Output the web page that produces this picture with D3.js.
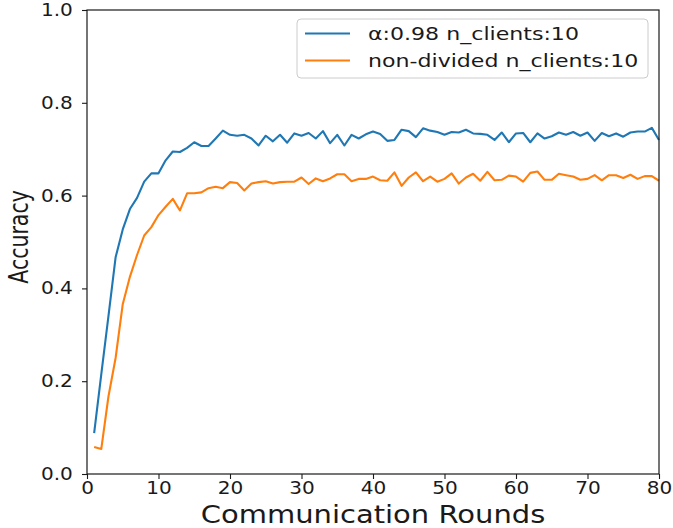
<!DOCTYPE html>
<html>
<head>
<meta charset="utf-8">
<script src="https://cdn.jsdelivr.net/npm/d3@7"></script>
<style>
  body { margin: 0; background: #fff; }
  .canva text { font-family: "DejaVu Sans", sans-serif; fill: #1a1a1a; }
</style>
</head>
<body>
<div class="canva"></div>
<script>
const rounds = d3.range(1, 81);

var alphaAcc = [
  0.088, 0.215, 0.340, 0.467, 0.527, 0.571, 0.595, 0.630, 0.648, 0.648,
  0.676, 0.695, 0.694, 0.703, 0.715, 0.707, 0.707, 0.723, 0.740, 0.731,
  0.729, 0.731, 0.723, 0.708, 0.729, 0.717, 0.731, 0.714, 0.734, 0.729,
  0.735, 0.723, 0.739, 0.713, 0.731, 0.708, 0.731, 0.723, 0.732, 0.738,
  0.733, 0.718, 0.720, 0.742, 0.739, 0.726, 0.745, 0.740, 0.737, 0.731,
  0.737, 0.736, 0.742, 0.734, 0.733, 0.731, 0.720, 0.736, 0.715, 0.734,
  0.735, 0.715, 0.734, 0.723, 0.728, 0.736, 0.731, 0.737, 0.729, 0.736,
  0.718, 0.735, 0.728, 0.734, 0.727, 0.736, 0.738, 0.738, 0.746, 0.720
];

var nonDividedAcc = [
  0.058, 0.054, 0.167, 0.250, 0.366, 0.425, 0.472, 0.514, 0.532, 0.558,
  0.576, 0.593, 0.568, 0.605, 0.605, 0.607, 0.616, 0.619, 0.616, 0.629,
  0.627, 0.611, 0.626, 0.629, 0.631, 0.626, 0.629, 0.630, 0.630, 0.639,
  0.625, 0.637, 0.631, 0.637, 0.646, 0.646, 0.631, 0.636, 0.636, 0.641,
  0.633, 0.632, 0.650, 0.621, 0.639, 0.650, 0.631, 0.641, 0.630, 0.636,
  0.648, 0.626, 0.639, 0.647, 0.632, 0.651, 0.633, 0.634, 0.643, 0.641,
  0.630, 0.649, 0.652, 0.634, 0.634, 0.647, 0.644, 0.641, 0.634, 0.636,
  0.644, 0.633, 0.644, 0.644, 0.638, 0.645, 0.636, 0.642, 0.642, 0.632
];

var seriesNames = ["α:0.98 n_clients:10", "non-divided n_clients:10"];
var seriesColors = ["#1f77b4", "#ff7f0e"];
var xTicks = [0, 10, 20, 30, 40, 50, 60, 70, 80];
var yTicks = [0.0, 0.2, 0.4, 0.6, 0.8, 1.0];

const svg = d3.select(".canva").append("svg")
              .attr("width", 673)
              .attr("height", 528);

const margin = {top: 10, right: 14, bottom: 54, left: 87};
const graphWidth = 673 - margin.left - margin.right;
const graphHeight = 528 - margin.top - margin.bottom;

const mainCanvas = svg.append("g")
                      .attr("transform", `translate(${margin.left},${margin.top})`);

var x = d3.scaleLinear().domain([0, 80]).range([0, graphWidth]);
var y = d3.scaleLinear().domain([0, 1]).range([graphHeight, 0]);

var valueLine = d3.line()
                  .x((d, i) => x(rounds[i]))
                  .y(d => y(d));

[alphaAcc, nonDividedAcc].forEach(function(series, k) {
  mainCanvas.append("path")
            .datum(series)
            .attr("fill", "none")
            .attr("stroke", seriesColors[k])
            .attr("stroke-width", 2.1)
            .attr("stroke-linejoin", "round")
            .attr("d", valueLine);
});

// axes
var xAxis = d3.axisBottom(x).tickValues(xTicks).tickFormat(d3.format("d"))
              .tickSize(5).tickPadding(3);
var gx = mainCanvas.append("g")
                   .attr("transform", "translate(0," + graphHeight + ")")
                   .call(xAxis);

var yAxis = d3.axisLeft(y).tickValues(yTicks).tickFormat(d3.format(".1f"))
              .tickSize(5).tickPadding(7);
var gy = mainCanvas.append("g").call(yAxis);

[gx, gy].forEach(function(g) {
  g.select(".domain").remove();
  g.selectAll(".tick line").attr("stroke", "#1a1a1a").attr("stroke-width", 1.1);
  g.selectAll(".tick text")
   .attr("font-size", 17)
   .attr("font-family", "DejaVu Sans")
   .attr("transform", "scale(1.18,1)");
});

// frame
mainCanvas.append("rect")
          .attr("width", graphWidth)
          .attr("height", graphHeight)
          .attr("fill", "none")
          .attr("stroke", "#1a1a1a")
          .attr("stroke-width", 1.2);

// labels
svg.append("text")
   .attr("transform", `translate(${margin.left + graphWidth / 2},523) scale(1.16,1)`)
   .attr("text-anchor", "middle")
   .attr("font-size", 25)
   .text("Communication Rounds");

svg.append("text")
   .attr("transform", "translate(28,237) scale(1.3,1) rotate(-90)")
   .attr("text-anchor", "middle")
   .attr("font-size", 20.5)
   .text("Accuracy");

// legend
var legend = svg.append("g");
legend.append("rect")
      .attr("x", 297).attr("y", 19)
      .attr("width", 351).attr("height", 59)
      .attr("rx", 4)
      .attr("fill", "#fff").attr("fill-opacity", 0.8)
      .attr("stroke", "#cccccc").attr("stroke-width", 1);

seriesNames.forEach(function(name, k) {
  var ly = 33.5 + k * 27;
  legend.append("line")
        .attr("x1", 305).attr("x2", 350)
        .attr("y1", ly).attr("y2", ly)
        .attr("stroke", seriesColors[k])
        .attr("stroke-width", 2.1);
  legend.append("text")
        .attr("transform", `translate(368,${ly + 6.5}) scale(1.3,1)`)
        .attr("font-size", 17)
        .text(name);
});
</script>
</body>
</html>
